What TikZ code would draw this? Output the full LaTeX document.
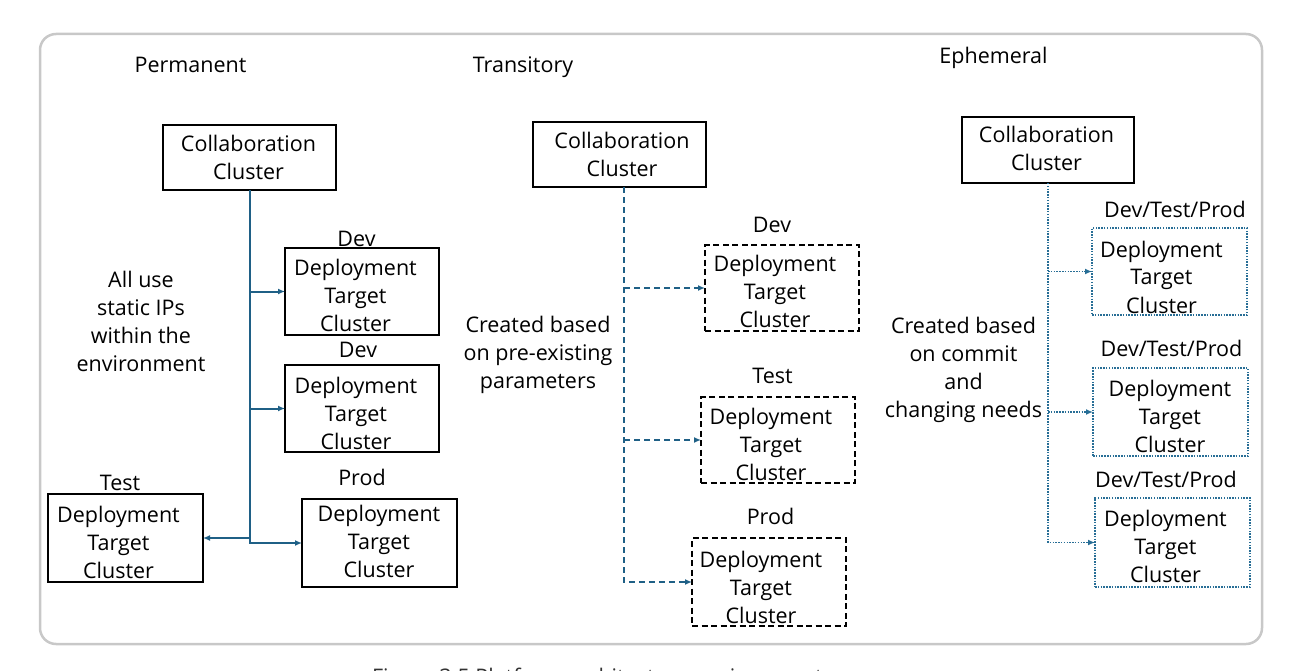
\documentclass[tikz,border=0pt]{standalone}
\usepackage{fontspec}
\setmainfont{Open Sans}
\usetikzlibrary{arrows.meta}
\definecolor{lnblue}{RGB}{31,96,134}
\definecolor{dotblue}{RGB}{40,110,150}
\definecolor{framegray}{RGB}{200,200,200}
\newcommand\mlines[1]{\vtop{\halign{\hfil##\hfil\cr#1\crcr}}}
\begin{document}
\begin{tikzpicture}[x=1pt,y=-1pt,
  every node/.style={font=\fontsize{21.5}{28}\selectfont, inner sep=0pt, outer sep=0pt},
  txt/.style={anchor=base},
  solidbox/.style={draw=black, line width=1.8pt},
  dashbox/.style={draw=black, line width=1.8pt, dash pattern=on 6pt off 3.5pt},
  dotbox/.style={draw=dotblue, line width=1.6pt, dash pattern=on 1.5pt off 1.3pt},
  tip/.style={-{Latex[length=7pt,width=6pt]}},
  solidln/.style={draw=lnblue, line width=2pt},
  dashln/.style={draw=lnblue, line width=1.8pt, dash pattern=on 6pt off 4pt},
  dotln/.style={draw=dotblue, line width=1.6pt, dash pattern=on 1.5pt off 1.3pt}]
\useasboundingbox (0,0) rectangle (1298,671);
\draw[framegray, line width=2.5pt, rounded corners=16pt] (40,34) rectangle (1262,644);

% ---------- Permanent ----------
\node[txt] (ptitle) at (190.5,73) {Permanent};
\node[solidbox, minimum width=173pt, minimum height=65pt] (pc) at (249.5,157.5) {};
\node[txt] (pctxt) at (248.5,152) {\mlines{Collaboration\cr Cluster}};
\node[solidbox, minimum width=154pt, minimum height=87pt] (pd1) at (362,291.5) {};
\node[txt] (pd1txt) at (355.5,275) {\mlines{Deployment\cr Target\cr Cluster}};
\node[txt] (pd1lab) at (356.5,246) {Dev};
\node[solidbox, minimum width=154pt, minimum height=87pt] (pd2) at (362,408.5) {};
\node[txt] (pd2txt) at (356,393) {\mlines{Deployment\cr Target\cr Cluster}};
\node[txt] (pd2lab) at (358,357) {Dev};
\node[solidbox, minimum width=155pt, minimum height=88pt] (pt) at (125.5,538) {};
\node[txt] (pttxt) at (118.5,522) {\mlines{Deployment\cr Target\cr Cluster}};
\node[txt] (ptlab) at (120,490) {Test};
\node[solidbox, minimum width=155pt, minimum height=88pt] (pp) at (379.5,543) {};
\node[txt] (pptxt) at (379,521) {\mlines{Deployment\cr Target\cr Cluster}};
\node[txt] (pplab) at (362,485) {Prod};
\node[txt] (pnote) at (141,287) {\mlines{All use\cr static IPs\cr within the\cr environment}};
\draw[solidln, tip] (pc.south) |- (pp.west);
\draw[solidln, tip] (pc.south |- pd1.west) -- (pd1.west);
\draw[solidln, tip] (pc.south |- pd2.west) -- (pd2.west);
\draw[solidln, tip] (pc.south |- pt.east) -- (pt.east);

% ---------- Transitory ----------
\node[txt] (ttitle) at (523,73) {Transitory};
\node[solidbox, minimum width=173pt, minimum height=65pt] (tc) at (619.5,154.5) {};
\node[txt] (tctxt) at (622,149) {\mlines{Collaboration\cr Cluster}};
\node[dashbox, minimum width=154pt, minimum height=86pt] (td) at (782,288) {};
\node[txt] (tdtxt) at (775,271) {\mlines{Deployment\cr Target\cr Cluster}};
\node[txt] (tdlab) at (772,233) {Dev};
\node[dashbox, minimum width=154pt, minimum height=86pt] (tt) at (778,440) {};
\node[txt] (tttxt) at (771,424) {\mlines{Deployment\cr Target\cr Cluster}};
\node[txt] (ttlab) at (772.5,383) {Test};
\node[dashbox, minimum width=154pt, minimum height=88pt] (tp) at (769,582) {};
\node[txt] (tptxt) at (761,567) {\mlines{Deployment\cr Target\cr Cluster}};
\node[txt] (tplab) at (770.5,524) {Prod};
\node[txt] (tnote) at (538,332) {\mlines{Created based\cr on pre-existing\cr parameters}};
\coordinate (tstart) at ([xshift=4.5pt]tc.south);
\draw[dashln, tip] (tstart) |- (tp.west);
\draw[dashln, tip] (tstart |- td.west) -- (td.west);
\draw[dashln, tip] (tstart |- tt.west) -- (tt.west);

% ---------- Ephemeral ----------
\node[txt] (etitle) at (993.5,64) {Ephemeral};
\node[solidbox, minimum width=172pt, minimum height=66pt] (ec) at (1048,150) {};
\node[txt] (ectxt) at (1046.5,143) {\mlines{Collaboration\cr Cluster}};
\node[dotbox, minimum width=155pt, minimum height=87pt] (e1) at (1169.5,271.5) {};
\node[txt] (e1txt) at (1161.5,257) {\mlines{Deployment\cr Target\cr Cluster}};
\node[txt] (e1lab) at (1175,218) {Dev/Test/Prod};
\node[dotbox, minimum width=155pt, minimum height=88pt] (e2) at (1170.5,412) {};
\node[txt] (e2txt) at (1170,396) {\mlines{Deployment\cr Target\cr Cluster}};
\node[txt] (e2lab) at (1171.5,356) {Dev/Test/Prod};
\node[dotbox, minimum width=155pt, minimum height=89pt] (e3) at (1172.5,542.5) {};
\node[txt] (e3txt) at (1165.5,526) {\mlines{Deployment\cr Target\cr Cluster}};
\node[txt] (e3lab) at (1166,487) {Dev/Test/Prod};
\node[txt] (enote) at (963.5,333) {\mlines{Created based\cr on commit\cr and\cr changing needs}};
\draw[dotln, tip] (ec.south) |- (e3.west);
\draw[dotln, tip] (ec.south |- e1.west) -- (e1.west);
\draw[dotln, tip] (ec.south |- e2.west) -- (e2.west);

% ---------- caption (cut off at the bottom edge) ----------
\node[anchor=base west, text=black!80] (caption) at (372,684) {Figure 3.5 Platform architecture environments};
\end{tikzpicture}
\end{document}
